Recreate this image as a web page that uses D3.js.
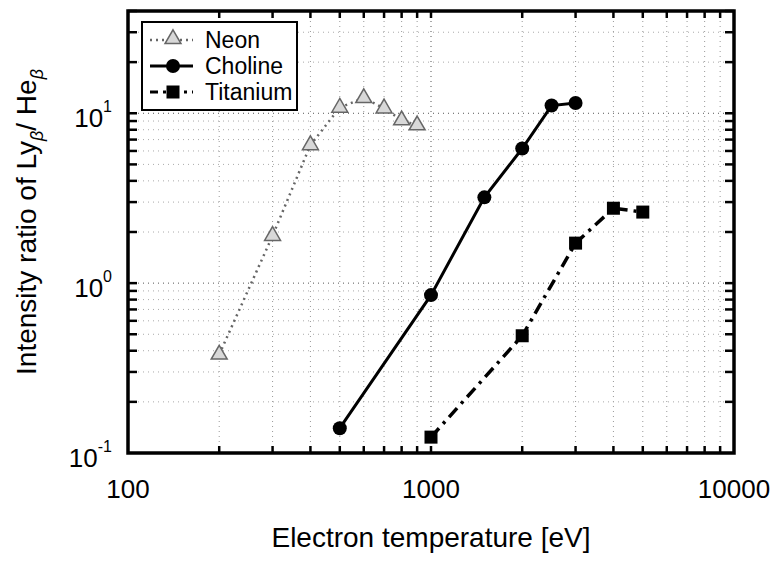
<!DOCTYPE html>
<html>
<head>
<meta charset="utf-8">
<script src="https://cdn.jsdelivr.net/npm/d3@7"></script>
<style>
  body { margin: 0; background: #fff; }
  text { font-family: "Liberation Sans", Arial, sans-serif; fill: #000; }
</style>
</head>
<body>
<script>

// Neon (triangles, grey dotted)
var neonTemp = [200, 300, 400, 500, 600, 700, 800, 900];
var neonRatio = [0.38, 1.9, 6.5, 10.8, 12.3, 10.7, 9.1, 8.5];

// Choline (circles, solid)
var cholineTemp = [500, 1000, 1500, 2000, 2500, 3000];
var cholineRatio = [0.14, 0.85, 3.2, 6.2, 11.1, 11.5];

// Titanium (squares, dash-dot)
var titaniumTemp = [1000, 2000, 3000, 4000, 5000];
var titaniumRatio = [0.124, 0.49, 1.72, 2.76, 2.62];

// Axis labels
var xTickLabels = [100, 1000, 10000];
var yTickExps = [-1, 0, 1];
var legendNames = ["Neon", "Choline", "Titanium"];

const width = 776;
const height = 562;

var margin = { top: 11, left: 128, right: 42, bottom: 109 };
var plotWidth = width - margin.left - margin.right;
var plotHeight = height - margin.top - margin.bottom;

var svg = d3.select('body').append('svg')
	.attr('width', width)
	.attr('height', height);

var plot = svg.append('g')
	.attr('transform', `translate(${margin.left},${margin.top})`);

var xScale = d3.scaleLog().domain([100, 10000]).range([0, plotWidth]);
var yScale = d3.scaleLog().domain([0.1, 40]).range([plotHeight, 0]);

// tick values: majors and minors for the log axes
var xMinor = [];
[100, 1000].forEach(function(d) {
	for (var k = 2; k <= 9; k++) xMinor.push(d * k);
});
var yMinor = [];
[0.1, 1, 10].forEach(function(d) {
	for (var k = 2; k <= 9; k++) if (d * k <= 40) yMinor.push(d * k);
});

// grid (faint dotted)
var grid = plot.append('g').classed('grid', true);
grid.selectAll('.gx').data(xMinor.concat([1000])).enter().append('line')
	.attr('x1', d => xScale(d)).attr('x2', d => xScale(d))
	.attr('y1', 0).attr('y2', plotHeight)
	.attr('stroke', d => d === 1000 ? '#555' : '#999')
	.attr('stroke-width', 1)
	.attr('stroke-dasharray', '1,4');
grid.selectAll('.gy').data(yMinor.concat([1, 10])).enter().append('line')
	.attr('x1', 0).attr('x2', plotWidth)
	.attr('y1', d => yScale(d)).attr('y2', d => yScale(d))
	.attr('stroke', d => (d === 1 || d === 10) ? '#555' : '#aaa')
	.attr('stroke-width', 1)
	.attr('stroke-dasharray', '1,4');

// ticks pointing inward on all four sides
function drawTicks(g, vals, len, orient) {
	g.selectAll(null).data(vals).enter().append('line')
		.attr('x1', d => orient === 'v' ? xScale(d) : (len > 0 ? 0 : plotWidth))
		.attr('x2', d => orient === 'v' ? xScale(d) : (len > 0 ? len : plotWidth + len))
		.attr('y1', d => orient === 'h' ? yScale(d) : (len > 0 ? plotHeight : 0))
		.attr('y2', d => orient === 'h' ? yScale(d) : (len > 0 ? plotHeight - len : -len))
		.attr('stroke', '#000')
		.attr('stroke-width', 2.5);
}
var ticks = plot.append('g').classed('ticks', true);
drawTicks(ticks, xMinor.concat([1000]), 7, 'v');
drawTicks(ticks, xMinor.concat([1000]), -7, 'v');
drawTicks(ticks, yMinor.concat([1, 10]), 9, 'h');
drawTicks(ticks, yMinor.concat([1, 10]), -9, 'h');

// frame
plot.append('rect')
	.attr('x', 0).attr('y', 0)
	.attr('width', plotWidth).attr('height', plotHeight)
	.attr('fill', 'none')
	.attr('stroke', '#000')
	.attr('stroke-width', 3.5);

// x tick labels
plot.selectAll('.xl').data(xTickLabels).enter().append('text')
	.attr('x', d => xScale(d))
	.attr('y', plotHeight + 45)
	.attr('text-anchor', 'middle')
	.style('font-size', '26px')
	.text(d => d);

// y tick labels with exponent
var yl = plot.selectAll('.yl').data(yTickExps).enter().append('text')
	.attr('x', -16)
	.attr('y', d => yScale(Math.pow(10, d)) + 14)
	.attr('text-anchor', 'end')
	.style('font-size', '26px');
yl.append('tspan').text('10');
yl.append('tspan')
	.attr('dy', -15)
	.style('font-size', '16px')
	.text(d => d);

// axis titles
svg.append('text')
	.attr('x', margin.left + plotWidth / 2)
	.attr('y', 547)
	.attr('text-anchor', 'middle')
	.style('font-size', '28px')
	.text('Electron temperature [eV]');

var yTitle = svg.append('text')
	.attr('transform', `translate(36,${margin.top + plotHeight / 2 - 10}) rotate(-90)`)
	.attr('text-anchor', 'middle')
	.style('font-size', '28px');
yTitle.append('tspan').text('Intensity ratio of Ly');
yTitle.append('tspan').attr('dy', 7).style('font-size', '18px').style('font-style', 'italic').text('β');
yTitle.append('tspan').attr('dy', -7).text('/ He');
yTitle.append('tspan').attr('dy', 7).style('font-size', '18px').style('font-style', 'italic').text('β');

// series
var line = d3.line().x(d => xScale(d[0])).y(d => yScale(d[1]));
var series = plot.append('g').classed('series', true);

var neon = d3.zip(neonTemp, neonRatio);
var choline = d3.zip(cholineTemp, cholineRatio);
var titanium = d3.zip(titaniumTemp, titaniumRatio);

series.append('path').datum(neon)
	.attr('d', line)
	.attr('fill', 'none')
	.attr('stroke', '#666')
	.attr('stroke-width', 2.5)
	.attr('stroke-dasharray', '2,4');

series.append('path').datum(choline)
	.attr('d', line)
	.attr('fill', 'none')
	.attr('stroke', '#000')
	.attr('stroke-width', 3);

series.append('path').datum(titanium)
	.attr('d', line)
	.attr('fill', 'none')
	.attr('stroke', '#000')
	.attr('stroke-width', 3.5)
	.attr('stroke-dasharray', '12,6,3,6');

var tri = d3.symbol().type(d3.symbolTriangle).size(110);
series.selectAll('.neon').data(neon).enter().append('path')
	.attr('d', tri)
	.attr('transform', d => `translate(${xScale(d[0])},${yScale(d[1])})`)
	.attr('fill', '#d8d8d8')
	.attr('stroke', '#666')
	.attr('stroke-width', 1.5);

series.selectAll('.choline').data(choline).enter().append('circle')
	.attr('cx', d => xScale(d[0]))
	.attr('cy', d => yScale(d[1]))
	.attr('r', 7)
	.attr('fill', '#000');

series.selectAll('.titanium').data(titanium).enter().append('rect')
	.attr('x', d => xScale(d[0]) - 6.5)
	.attr('y', d => yScale(d[1]) - 6.5)
	.attr('width', 13)
	.attr('height', 13)
	.attr('fill', '#000');

// legend
var legend = svg.append('g').attr('transform', 'translate(142,22)');
legend.append('rect')
	.attr('width', 155).attr('height', 88)
	.attr('fill', '#fff')
	.attr('stroke', '#000')
	.attr('stroke-width', 2);

var legendRows = legend.selectAll('.row').data(legendNames).enter().append('g')
	.attr('transform', (d, i) => `translate(0,${18 + i * 26})`);
legendRows.append('text')
	.attr('x', 63).attr('y', 8)
	.style('font-size', '23px')
	.text(d => d);
legendRows.append('line')
	.attr('x1', 8).attr('x2', 51).attr('y1', 0).attr('y2', 0)
	.attr('stroke', (d, i) => i === 0 ? '#666' : '#000')
	.attr('stroke-width', (d, i) => i === 0 ? 2.5 : 3)
	.attr('stroke-dasharray', (d, i) => i === 0 ? '2,4' : (i === 2 ? '8,5,3,5' : null));
legendRows.filter((d, i) => i === 0).append('path')
	.attr('d', tri)
	.attr('transform', 'translate(31,-1)')
	.attr('fill', '#d8d8d8').attr('stroke', '#666').attr('stroke-width', 1.5);
legendRows.filter((d, i) => i === 1).append('circle')
	.attr('cx', 31).attr('cy', 0).attr('r', 7).attr('fill', '#000');
legendRows.filter((d, i) => i === 2).append('rect')
	.attr('x', 24.5).attr('y', -6.5).attr('width', 13).attr('height', 13).attr('fill', '#000');

</script>
</body>
</html>
